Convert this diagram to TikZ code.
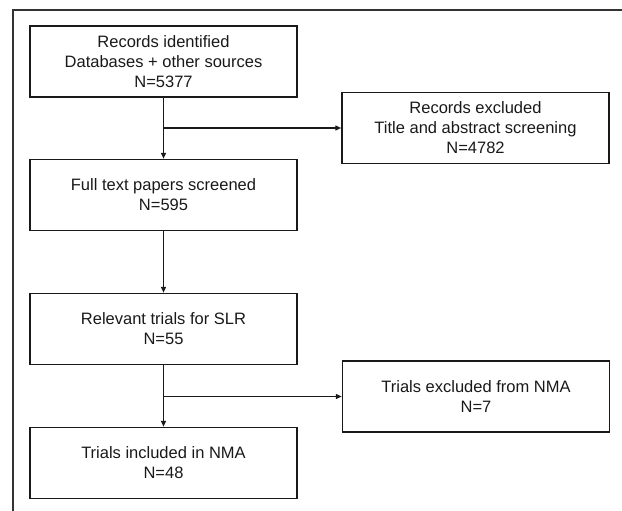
\documentclass[tikz,border=0pt]{standalone}
\usepackage{fontspec}
\setmainfont{Liberation Sans}
\usetikzlibrary{arrows.meta}
\begin{document}
\begin{tikzpicture}[x=1pt,y=-1pt,
  stepbox/.style={draw=black!90,line width=1.5pt,minimum width=267pt,minimum height=71pt,
    inner sep=0pt,align=center,font=\fontsize{16.5}{20}\selectfont,text=black!90},
  arr/.style={draw=black!90,line width=1.4pt,-{Triangle[length=6pt,width=5pt]}}]
\useasboundingbox (0,0) rectangle (622,511);
\clip (0,0) rectangle (622,511);
\draw[black!80,line width=1.7pt] (13,530) -- (13,10) -- (640,10);
\node[stepbox] (b1) at (163.5,61.5) {Records identified\\Databases + other sources\\N=5377};
\node[stepbox] (bA) at (475.5,128) {Records excluded\\Title and abstract screening\\N=4782};
\node[stepbox] (b3) at (163.5,195) {Full text papers screened\\N=595};
\node[stepbox] (b4) at (163.5,329) {Relevant trials for SLR\\N=55};
\node[stepbox] (b5) at (476,396.5) {Trials excluded from NMA\\N=7};
\node[stepbox] (b6) at (163.5,463) {Trials included in NMA\\N=48};
\coordinate (j1) at (b1.south |- bA.west);
\coordinate (j2) at (b4.south |- b5.west);
\draw[arr] (b1) -- (b3);
\draw[arr] (j1) -- (bA.west);
\draw[arr] (b3) -- (b4);
\draw[arr] (b4) -- (b6);
\draw[arr] (j2) -- (b5.west);
\end{tikzpicture}
\end{document}
